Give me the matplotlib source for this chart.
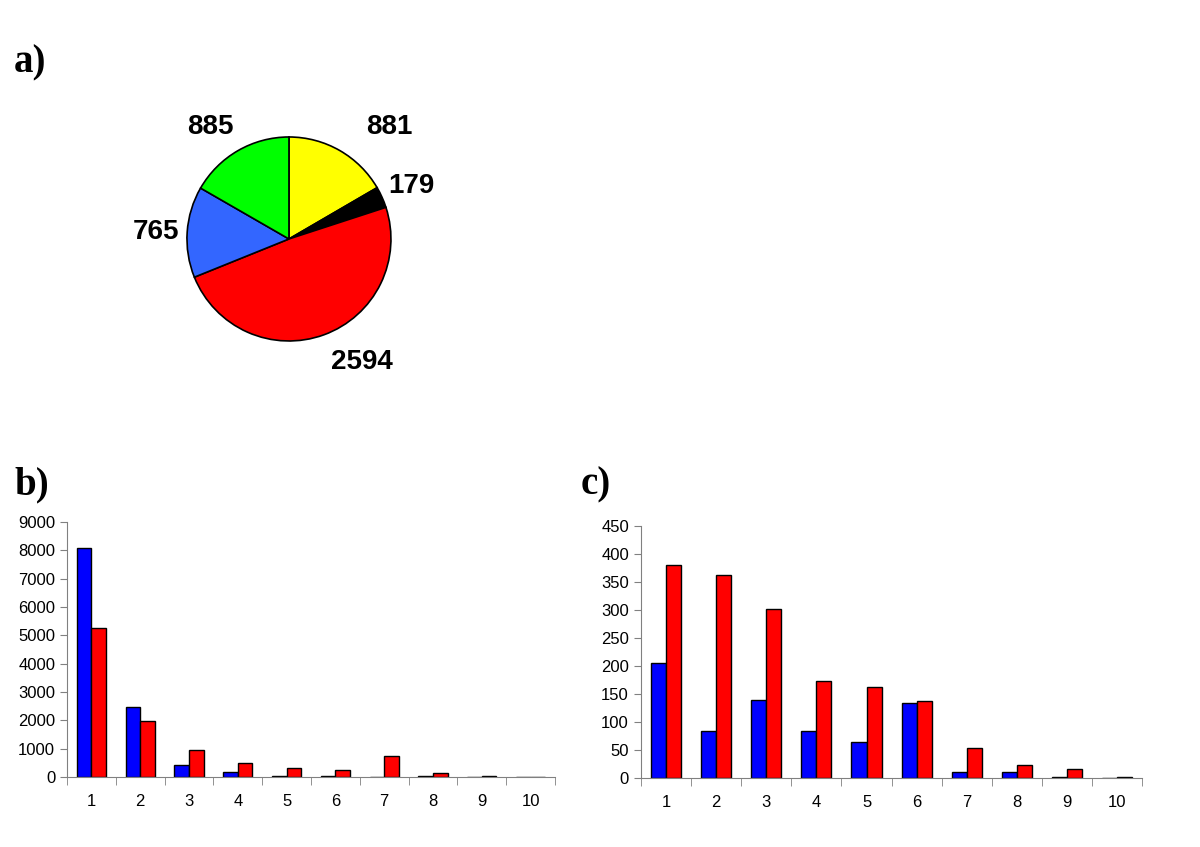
import numpy as np
import matplotlib
matplotlib.use('Agg')
import matplotlib.pyplot as plt

# pie data (clockwise from top)
pie_values = [881, 179, 2594, 765, 885]
pie_colors = ['#FFFF00', '#000000', '#FF0000', '#3366FF', '#00FF00']
# label positions in pie units (radius = 1)
pie_label_pos = [(0.98, 1.10), (1.20, 0.52), (0.71, -1.21), (-1.30, 0.07), (-0.77, 1.10)]

# bar data
categories = [1, 2, 3, 4, 5, 6, 7, 8, 9, 10]
b_blue = [8100, 2490, 430, 170, 30, 30, 0, 30, 0, 0]
b_red = [5270, 1970, 970, 500, 330, 250, 760, 130, 30, 0]
c_blue = [205, 83, 140, 83, 64, 133, 10, 10, 2, 0]
c_red = [381, 362, 302, 174, 162, 137, 54, 23, 16, 2]

plt.rcParams['font.family'] = ['Liberation Sans', 'DejaVu Sans']

fig = plt.figure(figsize=(12, 8.47), dpi=100)

# a) pie
ax_a = fig.add_axes([0.1133, 0.5372, 0.255, 0.3613])
ax_a.pie(pie_values, colors=pie_colors, startangle=90, counterclock=False,
         wedgeprops=dict(edgecolor='black', linewidth=1.2))
for val, (x, y) in zip(pie_values, pie_label_pos):
    ax_a.text(x, y, str(val), ha='center', va='center', fontsize=20, fontweight='bold')
ax_a.set_xlim(-1.5, 1.5)
ax_a.set_ylim(-1.5, 1.5)
ax_a.set_aspect('equal')
ax_a.axis('off')


def bar_panel(rect, blue, red, ymax, ystep):
    ax = fig.add_axes(rect)
    x = np.array(categories)
    w = 0.3
    ax.bar(x - w / 2, blue, width=w, color='#0000FF', edgecolor='black', linewidth=1)
    ax.bar(x + w / 2, red, width=w, color='#FF0000', edgecolor='black', linewidth=1)
    ax.set_xlim(0.5, 10.5)
    ax.set_ylim(0, ymax)
    ax.set_yticks(np.arange(0, ymax + 1, ystep))
    ax.set_xticks(x)
    ax.set_xticks(np.arange(0.5, 11, 1), minor=True)
    ax.tick_params(axis='x', which='major', length=0, pad=12, labelsize=12)
    ax.tick_params(axis='x', which='minor', length=6, direction='out', color='#808080')
    ax.tick_params(axis='y', length=5, direction='out', labelsize=12, color='#808080')
    for s in ['top', 'right']:
        ax.spines[s].set_visible(False)
    for s in ['left', 'bottom']:
        ax.spines[s].set_color('#808080')
    return ax


bar_panel([0.0558, 0.0826, 0.4067, 0.301], b_blue, b_red, 9000, 1000)
bar_panel([0.534, 0.0815, 0.418, 0.2975], c_blue, c_red, 450, 50)

# panel letters
for lbl, px, py in [('a)', 14, 63), ('b)', 14, 485), ('c)', 581, 485)]:
    fig.text(px / 1200, 1 - py / 847, lbl, ha='left', va='center',
             fontsize=28, fontweight='bold', family=['Liberation Serif', 'DejaVu Serif'])

fig.savefig('out.png', dpi=100)
